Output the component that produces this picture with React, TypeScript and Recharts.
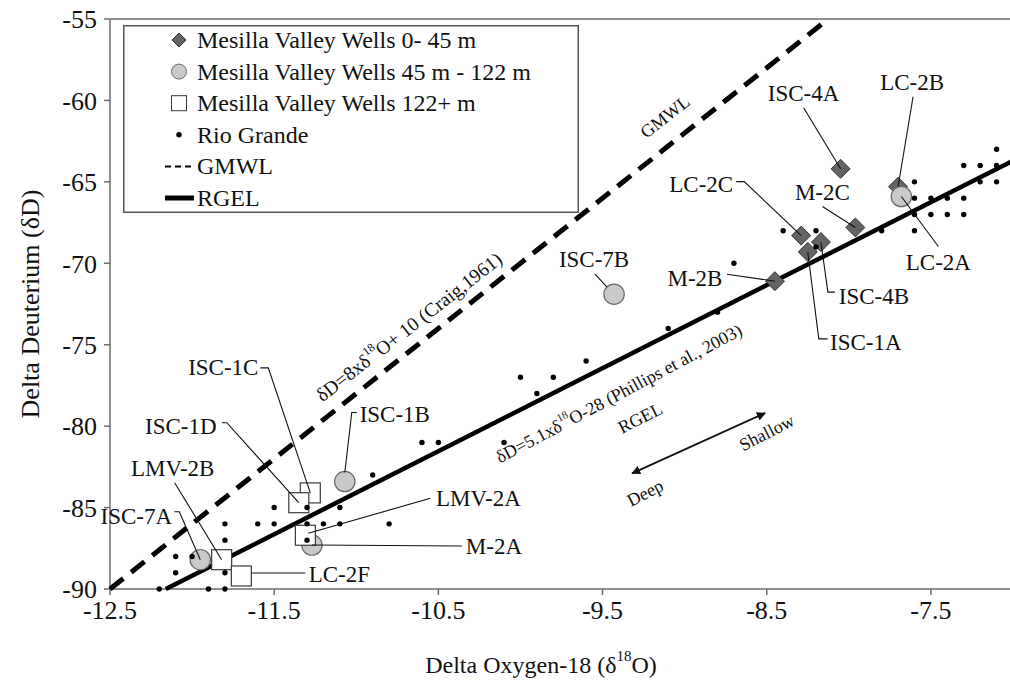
import React from 'react';
import { ScatterChart, Scatter, XAxis, YAxis, Legend, ReferenceLine, Label } from 'recharts';

const FONT = '"Liberation Serif", "Times New Roman", serif';
const AXIS_GREY = '#6b6b6b';

type Well = { name: string; o18: number; d: number };

// Mesilla Valley wells by screen depth
const WELLS_0_45: Well[] = [
  { name: 'ISC-4A', o18: -8.05, d: -64.2 },
  { name: 'LC-2B', o18: -7.7, d: -65.3 },
  { name: 'LC-2C', o18: -8.29, d: -68.3 },
  { name: 'ISC-4B', o18: -8.17, d: -68.7 },
  { name: 'ISC-1A', o18: -8.25, d: -69.3 },
  { name: 'M-2C', o18: -7.96, d: -67.8 },
  { name: 'M-2B', o18: -8.45, d: -71.1 },
];

const WELLS_45_122: Well[] = [
  { name: 'LC-2A', o18: -7.68, d: -65.9 },
  { name: 'ISC-7B', o18: -9.43, d: -71.9 },
  { name: 'ISC-1B', o18: -11.07, d: -83.4 },
  { name: 'M-2A', o18: -11.27, d: -87.3 },
  { name: 'ISC-7A', o18: -11.95, d: -88.2 },
];

const WELLS_122_PLUS: Well[] = [
  { name: 'ISC-1C', o18: -11.28, d: -84.1 },
  { name: 'ISC-1D', o18: -11.35, d: -84.7 },
  { name: 'LMV-2A', o18: -11.31, d: -86.7 },
  { name: 'LMV-2B', o18: -11.82, d: -88.2 },
  { name: 'LC-2F', o18: -11.7, d: -89.2 },
];

// Rio Grande samples [δ18O, δD]
const RIO_GRANDE: [number, number][] = [
  [-12.2, -90], [-11.9, -90], [-11.8, -90],
  [-12.1, -89], [-11.8, -89],
  [-12.1, -88], [-12.0, -88],
  [-11.8, -87], [-11.3, -87],
  [-11.8, -86], [-11.6, -86], [-11.5, -86], [-11.3, -86], [-11.2, -86], [-11.1, -86], [-10.8, -86],
  [-11.5, -85], [-11.3, -85], [-11.1, -85],
  [-10.9, -83],
  [-10.6, -81], [-10.5, -81], [-10.1, -81],
  [-9.9, -78],
  [-10.0, -77], [-9.8, -77],
  [-9.6, -76],
  [-9.1, -74],
  [-8.8, -73],
  [-8.7, -70],
  [-8.4, -68], [-8.2, -68], [-8.2, -69],
  [-7.8, -68], [-7.6, -68],
  [-7.6, -67], [-7.5, -67], [-7.4, -67], [-7.3, -67],
  [-7.6, -66], [-7.5, -66], [-7.4, -66], [-7.3, -66],
  [-7.6, -65], [-7.2, -65], [-7.1, -65],
  [-7.3, -64], [-7.2, -64], [-7.1, -64],
  [-7.1, -63],
];

// end points of the two water lines
const GMWL_ENDS = [{ o18: -12.5, d: -90 }, { o18: -8.125, d: -55 }];
const RGEL_ENDS = [{ o18: -12.16, d: -90 }, { o18: -7.0, d: -63.7 }];

const X_TICKS = [-12.5, -11.5, -10.5, -9.5, -8.5, -7.5];
const Y_TICKS = [-90, -85, -80, -75, -70, -65, -60, -55];

// rotated notes, '^18' is drawn as superscript
const NOTES = [
  { o18: -10.68, d: -73.9, angle: -38, size: 19.5, text: 'δD=8xδ^18O+ 10 (Craig,1961)' },
  { o18: -9.12, d: -61.0, angle: -38, size: 18, text: 'GMWL' },
  { o18: -9.4, d: -78.0, angle: -28, size: 18, text: 'δD=5.1xδ^18O-28 (Phillips et al., 2003)' },
  { o18: -9.27, d: -79.5, angle: -27, size: 18, text: 'RGEL' },
  { o18: -8.5, d: -80.4, angle: -27, size: 18, text: 'Shallow' },
  { o18: -9.24, d: -84.1, angle: -27, size: 18, text: 'Deep' },
];
const ARROW = [{ x: -9.32, y: -82.9 }, { x: -8.51, y: -79.2 }];

// label placement around each well marker, pixel offsets
const LABELS: Record<string, { t: [number, number]; path: [number, number][] }> = {
  'ISC-4A': { t: [-37, -75], path: [[-37, -61], [0, 0]] },
  'LC-2B': { t: [14, -104], path: [[15, -90], [0, 0]] },
  'LC-2C': { t: [-100, -51], path: [[-65, -54], [-57, -54], [0, 0]] },
  'M-2C': { t: [-33, -35], path: [[-33, -21], [0, 0]] },
  'M-2B': { t: [-80, -3], path: [[-48, -7], [0, 0]] },
  'ISC-4B': { t: [53, 54], path: [[0, 0], [7, 50], [14, 50]] },
  'ISC-1A': { t: [58, 91], path: [[0, 0], [11, 87], [20, 87]] },
  'LC-2A': { t: [37, 66], path: [[0, 0], [37, 50]] },
  'ISC-7B': { t: [-20, -35], path: [[-19, -20], [-7, -7]] },
  'ISC-1C': { t: [-87, -125], path: [[-50, -125], [-42, -125], [0, 0]] },
  'ISC-1D': { t: [-118, -76], path: [[-77, -80], [-72, -80], [0, 0]] },
  'ISC-1B': { t: [50, -67], path: [[12, -69], [7, -69], [0, -9]] },
  'LMV-2A': { t: [173, -37], path: [[125, -37], [3, -2]] },
  'M-2A': { t: [182, 1], path: [[0, 0], [150, 1]] },
  'LMV-2B': { t: [-49, -91], path: [[-47, -77], [0, 0]] },
  'ISC-7A': { t: [-64, -43], path: [[-26, -48], [-21, -48], [0, 0]] },
  'LC-2F': { t: [98, -1], path: [[10, -3], [64, -3]] },
};

const rioData = RIO_GRANDE.map(([o18, d]) => ({ o18, d }));
const allWells = [...WELLS_0_45, ...WELLS_45_122, ...WELLS_122_PLUS];

const sup = (text: string, size: number) => {
  const parts = text.split('^18');
  if (parts.length === 1) return text;
  const s = Math.round(size * 0.62);
  const up = Math.round(size * 0.38);
  return (
    <>
      {parts[0]}
      <tspan dy={-up} fontSize={s}>18</tspan>
      <tspan dy={up}>{parts[1]}</tspan>
    </>
  );
};

const diamond = (cx: number, cy: number, r: number) =>
  `M${cx},${cy - r}L${cx + r},${cy}L${cx},${cy + r}L${cx - r},${cy}Z`;

const DiamondShape = (p: any) => (
  <path d={diamond(p.cx, p.cy, 9.5)} fill="#646464" stroke="#333" strokeWidth={1} />
);
const CircleShape = (p: any) => (
  <circle cx={p.cx} cy={p.cy} r={10.2} fill="#c9c9c9" stroke="#6a6a6a" strokeWidth={1.2} />
);
const SquareShape = (p: any) => (
  <rect x={p.cx - 10} y={p.cy - 10} width={20} height={20} fill="#fff" stroke="#3a3a3a" strokeWidth={1.2} />
);
const DotShape = (p: any) => <circle cx={p.cx} cy={p.cy} r={2.7} fill="#000" />;
const NoShape = () => <g />;

const LabelShape = (p: any) => {
  const lay = LABELS[p.payload.name];
  if (!lay) return <g />;
  const pts = lay.path.map(([dx, dy]) => `${p.cx + dx},${p.cy + dy}`).join(' ');
  return (
    <g>
      <polyline points={pts} fill="none" stroke="#111" strokeWidth={1.1} />
      <text
        x={p.cx + lay.t[0]}
        y={p.cy + lay.t[1]}
        textAnchor="middle"
        dominantBaseline="central"
        fontFamily={FONT}
        fontSize={23}
        fill="#111"
      >
        {p.payload.name}
      </text>
    </g>
  );
};

const NoteShape = (p: any) => {
  const n = p.payload;
  return (
    <text
      x={p.cx}
      y={p.cy}
      transform={`rotate(${n.angle} ${p.cx} ${p.cy})`}
      textAnchor="middle"
      dominantBaseline="central"
      fontFamily={FONT}
      fontSize={n.size}
      fill="#111"
    >
      {sup(n.text, n.size)}
    </text>
  );
};

const ArrowShape = (p: any) => (
  <line
    x1={p.x1}
    y1={p.y1}
    x2={p.x2}
    y2={p.y2}
    stroke="#111"
    strokeWidth={1.8}
    markerStart="url(#arrowHead)"
    markerEnd="url(#arrowHead)"
  />
);

const YTitle = (p: any) => {
  const vb = p.viewBox;
  const cy = vb.y + vb.height / 2;
  return (
    <text
      x={30}
      y={cy}
      transform={`rotate(-90 30 ${cy})`}
      textAnchor="middle"
      dominantBaseline="central"
      fontFamily={FONT}
      fontSize={26}
      fill="#111"
    >
      Delta Deuterium (δD)
    </text>
  );
};

const XTitle = (p: any) => {
  const vb = p.viewBox;
  return (
    <text x={541} y={vb.y + 76} textAnchor="middle" dominantBaseline="central" fontFamily={FONT} fontSize={24} fill="#111">
      {sup('Delta Oxygen-18 (δ^18O)', 24)}
    </text>
  );
};

const legendRows = [
  { label: 'Mesilla Valley Wells 0- 45 m', kind: 'diamond' },
  { label: 'Mesilla Valley Wells 45 m - 122 m', kind: 'circle' },
  { label: 'Mesilla Valley Wells 122+ m', kind: 'square' },
  { label: 'Rio Grande', kind: 'dot' },
  { label: 'GMWL', kind: 'dash' },
  { label: 'RGEL', kind: 'solid' },
];

const LegendBox = () => (
  <svg width={456} height={188} style={{ display: 'block' }}>
    <rect x={0.75} y={0.75} width={454.5} height={186.5} fill="#fff" stroke="#555" strokeWidth={1.5} />
    {legendRows.map((row, i) => {
      const y = 15 + i * 31.6;
      const mx = 56;
      let mark: React.ReactNode = null;
      if (row.kind === 'diamond') mark = <path d={diamond(mx, y, 7)} fill="#646464" stroke="#333" />;
      if (row.kind === 'circle') mark = <circle cx={mx} cy={y} r={7.5} fill="#c9c9c9" stroke="#6a6a6a" />;
      if (row.kind === 'square') mark = <rect x={mx - 7.5} y={y - 7.5} width={15} height={15} fill="#fff" stroke="#3a3a3a" />;
      if (row.kind === 'dot') mark = <circle cx={mx} cy={y} r={2.7} fill="#000" />;
      if (row.kind === 'dash')
        mark = <line x1={42} x2={71} y1={y} y2={y} stroke="#000" strokeWidth={2} strokeDasharray="6 4" />;
      if (row.kind === 'solid') mark = <line x1={42} x2={71} y1={y} y2={y} stroke="#000" strokeWidth={5} />;
      return (
        <g key={row.label}>
          {mark}
          <text x={74} y={y} dominantBaseline="central" fontFamily={FONT} fontSize={24} fill="#111">
            {row.label}
          </text>
        </g>
      );
    })}
  </svg>
);

export default function App() {
  return (
    <div style={{ position: 'absolute', left: 0, top: 0, width: 1010, height: 686, overflow: 'hidden', background: '#fff' }}>
      <ScatterChart width={1020} height={686} margin={{ top: 19, right: 7, bottom: 0, left: 0 }}>
        <defs>
          <marker id="arrowHead" viewBox="0 0 10 10" refX="9" refY="5" markerWidth="5" markerHeight="5" orient="auto-start-reverse">
            <path d="M0,0L10,5L0,10Z" fill="#111" />
          </marker>
        </defs>
        <XAxis
          type="number"
          dataKey="o18"
          domain={[-12.5, -7]}
          ticks={X_TICKS}
          height={97}
          tickSize={6}
          tickMargin={6}
          axisLine={{ stroke: AXIS_GREY, strokeWidth: 1.5 }}
          tickLine={{ stroke: AXIS_GREY, strokeWidth: 1.5 }}
          tick={{ fontSize: 26, fill: '#111', fontFamily: FONT }}
          label={<Label content={XTitle} />}
        />
        <YAxis
          type="number"
          dataKey="d"
          domain={[-90, -55]}
          ticks={Y_TICKS}
          width={110}
          tickSize={6}
          tickMargin={7}
          axisLine={{ stroke: AXIS_GREY, strokeWidth: 1.5 }}
          tickLine={{ stroke: AXIS_GREY, strokeWidth: 1.5 }}
          tick={{ fontSize: 26, fill: '#111', fontFamily: FONT }}
          label={<Label content={YTitle} />}
        />
        <ReferenceLine y={-55} stroke={AXIS_GREY} strokeWidth={1.5} />
        <Legend
          layout="horizontal"
          verticalAlign="middle"
          align="center"
          content={LegendBox}
          wrapperStyle={{ left: 123, top: 25, width: 456, height: 188 }}
        />
        <Scatter data={GMWL_ENDS} shape={NoShape} isAnimationActive={false}
          line={{ stroke: '#000', strokeWidth: 5, strokeDasharray: '17 10' }} />
        <Scatter data={RGEL_ENDS} shape={NoShape} isAnimationActive={false}
          line={{ stroke: '#000', strokeWidth: 4.5 }} />
        <ReferenceLine segment={ARROW} shape={ArrowShape} />
        <Scatter data={NOTES} shape={NoteShape} isAnimationActive={false} />
        <Scatter data={WELLS_0_45} shape={DiamondShape} isAnimationActive={false} />
        <Scatter data={WELLS_45_122} shape={CircleShape} isAnimationActive={false} />
        <Scatter data={WELLS_122_PLUS} shape={SquareShape} isAnimationActive={false} />
        <Scatter data={allWells} shape={LabelShape} isAnimationActive={false} />
        <Scatter data={rioData} shape={DotShape} isAnimationActive={false} />
      </ScatterChart>
    </div>
  );
}
